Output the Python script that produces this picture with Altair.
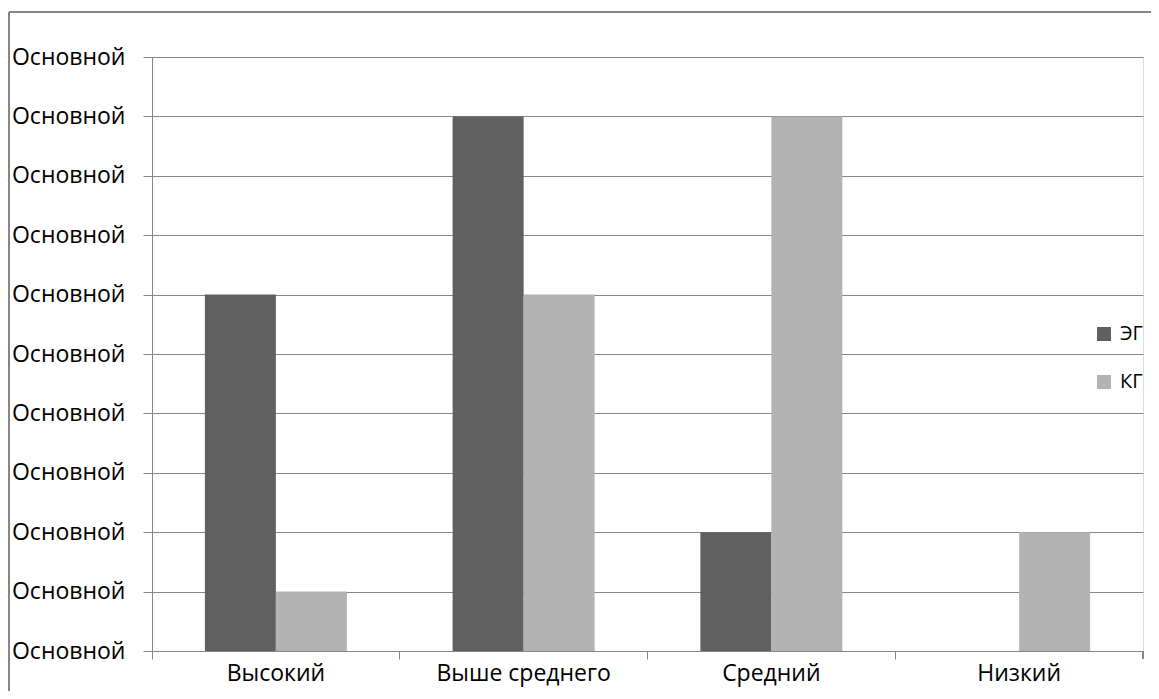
import altair as alt
import pandas as pd

categories = ["Высокий", "Выше среднего", "Средний", "Низкий"]
series = ["ЭГ", "КГ"]
eg_values = [6, 9, 2, 0]
kg_values = [1, 6, 9, 2]
y_ticks = list(range(0, 11))
y_label = "Основной"
colors = ["#606060", "#b3b3b3"]

rows = []
for c, e, k in zip(categories, eg_values, kg_values):
    rows.append({"cat": c, "grp": "ЭГ", "val": e})
    rows.append({"cat": c, "grp": "КГ", "val": k})
df = pd.DataFrame(rows)

FONT = "Open Sans"
W, H = 991, 594
AX = "#868686"

xscale = alt.Scale(domain=categories, paddingInner=0, paddingOuter=0)

bars = alt.Chart(df).mark_bar().encode(
    x=alt.X("cat:N", scale=xscale, sort=categories,
            axis=alt.Axis(title=None, labels=False, ticks=True, tickSize=8,
                          bandPosition=0, domainColor=AX, tickColor=AX,
                          domainWidth=1, grid=False, orient="bottom")),
    xOffset=alt.XOffset("grp:N", sort=series,
                        scale=alt.Scale(domain=series, paddingOuter=0.745, paddingInner=0)),
    y=alt.Y("val:Q", scale=alt.Scale(domain=[0, 10], nice=False),
            axis=alt.Axis(title=None, values=y_ticks, labelExpr="'" + y_label + "'",
                          tickSize=9, tickColor=AX, domainColor=AX,
                          gridColor=AX, grid=True, labelFont=FONT,
                          labelFontSize=23, labelColor="#000000", labelPadding=18)),
    color=alt.Color("grp:N", sort=series, scale=alt.Scale(domain=series, range=colors),
                    legend=alt.Legend(title=None, orient="none", legendX=942, legendY=267,
                                      symbolType="square", symbolSize=196, symbolStrokeWidth=0,
                                      labelFont=FONT, labelFontSize=20, labelColor="#000000",
                                      rowPadding=28, labelOffset=6, padding=0)),
)

labels = alt.Chart(df).mark_bar(opacity=0).encode(
    x=alt.X("cat:N", scale=xscale, sort=categories,
            axis=alt.Axis(title=None, ticks=False, domain=False, labelFont=FONT,
                          labelFontSize=23, labelColor="#000000", labelPadding=11,
                          labelAngle=0, orient="bottom")),
)

end_tick = alt.Chart(df).mark_rule(color=AX).encode(
    x=alt.value(W), y=alt.value(H), y2=alt.value(H + 8)
)

border_top = alt.Chart(df).mark_rule(color=AX, strokeWidth=1.5).encode(
    x=alt.value(-143), x2=alt.value(W + 30), y=alt.value(-45)
)
border_left = alt.Chart(df).mark_rule(color=AX, strokeWidth=1.5).encode(
    x=alt.value(-143), y=alt.value(-45), y2=alt.value(H + 60)
)

chart = alt.layer(bars, labels, end_tick, border_top, border_left).resolve_axis(
    x="independent"
).properties(
    width=W, height=H,
    autosize=alt.AutoSizeParams(type="none"),
    padding={"left": 144, "top": 49, "right": 8, "bottom": 40},
).configure_view(stroke=None).configure(background="#ffffff")

chart.save("out.html", embed_options={"renderer": "svg", "actions": False})
